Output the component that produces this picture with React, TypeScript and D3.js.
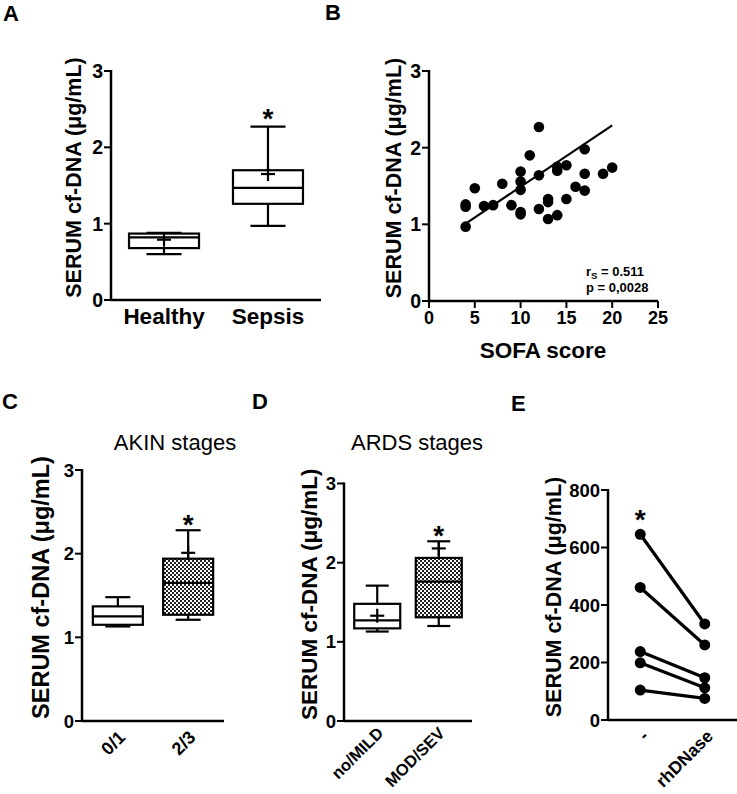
import React from "react";
import * as d3 from "d3";

// ---------- DATA ----------
// Panel A
const catsA = ["Healthy", "Sepsis"];
// [min, q1, median, q3, max]
const boxA = [
  [0.6, 0.68, 0.82, 0.87, 0.88],
  [0.97, 1.26, 1.47, 1.7, 2.27],
];
const meanA = [0.79, 1.65];

// Panel B
const sofaScore = [4, 4, 4, 5, 6, 7, 8, 9, 10, 10, 10, 10, 10, 11, 12, 12, 12, 13, 13, 13, 14, 14, 14, 15, 15, 16, 17, 17, 17, 19, 20];
const cfDnaB = [0.97, 1.26, 1.23, 1.47, 1.24, 1.25, 1.53, 1.25, 1.69, 1.56, 1.45, 1.16, 1.13, 1.9, 2.27, 1.64, 1.2, 1.33, 1.29, 1.07, 1.12, 1.75, 1.7, 1.77, 1.33, 1.49, 1.98, 1.66, 1.44, 1.66, 1.74];
const fitX = [4, 20];
const fitY = [1.01, 2.29];
const ticksB = [0, 5, 10, 15, 20, 25];

// Panel C
const catsC = ["0/1", "2/3"];
const boxC = [
  [1.13, 1.15, 1.25, 1.37, 1.48],
  [1.21, 1.27, 1.65, 1.94, 2.28],
];
const meanC = [null, 2.01];

// Panel D
const catsD = ["no/MILD", "MOD/SEV"];
const boxD = [
  [1.13, 1.17, 1.27, 1.48, 1.71],
  [1.2, 1.31, 1.76, 2.06, 2.27],
];
const meanD = [1.33, 2.18];

// Panel E
const catsE = ["-", "rhDNase"];
const beforeE = [646, 461, 238, 199, 104];
const afterE = [334, 261, 147, 112, 75];

const yTicks3 = [0, 1, 2, 3];
const yTicksE = [0, 200, 400, 600, 800];

const FONT = "'Liberation Sans', Arial, Helvetica, sans-serif";
const yLabel = "SERUM cf-DNA (\u03bcg/mL)";

type Scale = (v: number) => number;

function YAxis({ x, y, ticks, fs, labelX, labelFs, top, bottom }: { x: number; y: Scale; ticks: number[]; fs: number; labelX: number; labelFs: number; top: number; bottom: number }) {
  return (
    <g>
      <line x1={x} x2={x} y1={top - 1} y2={bottom + 1} stroke="#000" strokeWidth={2.5} />
      {ticks.map((t) => (
        <g key={t}>
          <line x1={x - 7} x2={x} y1={y(t)} y2={y(t)} stroke="#000" strokeWidth={2} />
          <text x={x - 8} y={y(t)} dy="0.36em" textAnchor="end" fontSize={fs} fontWeight="bold" fontFamily={FONT}>
            {t}
          </text>
        </g>
      ))}
      <text
        transform={`translate(${labelX},${(top + bottom) / 2 - 8}) rotate(-90)`}
        textAnchor="middle"
        dy="0.36em"
        fontSize={labelFs}
        fontWeight="bold"
        fontFamily={FONT}
      >
        {yLabel}
      </text>
    </g>
  );
}

function Box({ cx, w, stats, mean, y, fill }: { cx: number; w: number; stats: number[]; mean: number | null; y: Scale; fill: string }) {
  const [mn, q1, md, q3, mx] = stats;
  const cap = w * 0.5;
  return (
    <g stroke="#000" strokeWidth={2.2} fill="none">
      <line x1={cx} x2={cx} y1={y(mx)} y2={y(q3)} />
      <line x1={cx} x2={cx} y1={y(q1)} y2={y(mn)} />
      <line x1={cx - cap / 2} x2={cx + cap / 2} y1={y(mx)} y2={y(mx)} />
      <line x1={cx - cap / 2} x2={cx + cap / 2} y1={y(mn)} y2={y(mn)} />
      <rect x={cx - w / 2} y={y(q3)} width={w} height={y(q1) - y(q3)} fill={fill} />
      <line x1={cx - w / 2} x2={cx + w / 2} y1={y(md)} y2={y(md)} />
      {mean !== null && (
        <g>
          <line x1={cx - 7} x2={cx + 7} y1={y(mean)} y2={y(mean)} />
          <line x1={cx} x2={cx} y1={y(mean) - 7} y2={y(mean) + 7} />
        </g>
      )}
    </g>
  );
}

function Star({ x, yc }: { x: number; yc: number }) {
  return (
    <text x={x} y={yc + 16} textAnchor="middle" fontSize={28} fontWeight="bold" fontFamily={FONT}>
      *
    </text>
  );
}

function PanelLetter({ x, y, t }: { x: number; y: number; t: string }) {
  return (
    <text x={x} y={y} fontSize={22} fontWeight="bold" fontFamily={FONT}>
      {t}
    </text>
  );
}

export default function App() {
  // Panel A
  const yA = d3.scaleLinear().domain([0, 3]).range([300, 71]);
  const xA = d3.scalePoint<string>().domain(catsA).range([111, 321]).padding(0.51);

  // Panel B
  const yB = d3.scaleLinear().domain([0, 3]).range([301, 71]);
  const xB = d3.scaleLinear().domain([0, 25]).range([429, 658]);

  // Panel C
  const yC = d3.scaleLinear().domain([0, 3]).range([721, 470]);
  const xC = d3.scalePoint<string>().domain(catsC).range([82, 224]).padding(0.51);

  // Panel D
  const yD = d3.scaleLinear().domain([0, 3]).range([721, 483.5]);
  const xD = d3.scalePoint<string>().domain(catsD).range([344, 472]).padding(0.54);

  // Panel E
  const yE = d3.scaleLinear().domain([0, 800]).range([720, 490]);
  const xE = d3.scalePoint<string>().domain(catsE).range([608, 737]).padding(0.5);

  const lineE = d3.line<number[]>().x((d) => d[0]).y((d) => d[1]);

  return (
    <svg width={737} height={794} style={{ position: "absolute", left: 0, top: 0, background: "#fff" }} fontFamily={FONT}>
      <defs>
        <pattern id="checker" width={4} height={4} patternUnits="userSpaceOnUse">
          <rect width={4} height={4} fill="#fff" />
          <rect x={0} y={0} width={2} height={2} fill="#222" />
          <rect x={2} y={2} width={2} height={2} fill="#222" />
        </pattern>
      </defs>
      <rect width={737} height={794} fill="#fff" />

      {/* ---------- Panel A ---------- */}
      <PanelLetter x={3} y={21} t="A" />
      <YAxis x={111} y={yA} ticks={yTicks3} fs={19.5} labelX={73} labelFs={21.5} top={71} bottom={300} />
      <line x1={111} x2={321} y1={300} y2={300} stroke="#000" strokeWidth={2.5} />
      {catsA.map((c) => (
        <text key={c} x={xA(c)} y={324} textAnchor="middle" fontSize={22.5} fontWeight="bold" fontFamily={FONT}>
          {c}
        </text>
      ))}
      {catsA.map((c, i) => (
        <Box key={c} cx={xA(c) as number} w={70} stats={boxA[i]} mean={meanA[i]} y={yA} fill="#fff" />
      ))}
      <Star x={xA("Sepsis") as number} yc={yA(boxA[1][4]) - 15} />

      {/* ---------- Panel B ---------- */}
      <PanelLetter x={325} y={20} t="B" />
      <YAxis x={429} y={yB} ticks={yTicks3} fs={19.5} labelX={393} labelFs={21.5} top={71} bottom={301} />
      <line x1={429} x2={658} y1={301} y2={301} stroke="#000" strokeWidth={2.5} />
      {ticksB.map((t) => (
        <g key={t}>
          <line x1={xB(t)} x2={xB(t)} y1={301} y2={308} stroke="#000" strokeWidth={2} />
          <text x={xB(t)} y={324} textAnchor="middle" fontSize={18} fontWeight="bold" fontFamily={FONT}>
            {t}
          </text>
        </g>
      ))}
      <text x={543} y={358} textAnchor="middle" fontSize={22.5} fontWeight="bold" fontFamily={FONT}>
        SOFA score
      </text>
      <line x1={xB(fitX[0])} x2={xB(fitX[1])} y1={yB(fitY[0])} y2={yB(fitY[1])} stroke="#000" strokeWidth={2.2} />
      {sofaScore.map((s, i) => (
        <circle key={i} cx={xB(s)} cy={yB(cfDnaB[i])} r={5.3} fill="#000" />
      ))}
      <text x={586} y={276} fontSize={13} fontWeight="bold" fontFamily={FONT}>
        r<tspan fontSize={9.5} dy={3}>S</tspan>
        <tspan dy={-3}> = 0.511</tspan>
      </text>
      <text x={586} y={292} fontSize={13} fontWeight="bold" fontFamily={FONT}>
        p = 0,0028
      </text>

      {/* ---------- Panel C ---------- */}
      <PanelLetter x={2} y={409} t="C" />
      <text x={175} y={450} textAnchor="middle" fontSize={22} fontFamily={FONT}>
        AKIN stages
      </text>
      <YAxis x={82} y={yC} ticks={yTicks3} fs={18.5} labelX={41} labelFs={23.5} top={470} bottom={721} />
      <line x1={82} x2={224} y1={721} y2={721} stroke="#000" strokeWidth={2.5} />
      {catsC.map((c) => (
        <text key={c} transform={`translate(${(xC(c) as number) + 4},${734}) rotate(-45)`} textAnchor="end" dy="0.35em" fontSize={18} fontWeight="bold" fontFamily={FONT}>
          {c}
        </text>
      ))}
      {catsC.map((c, i) => (
        <Box key={c} cx={xC(c) as number} w={50} stats={boxC[i]} mean={meanC[i]} y={yC} fill={i === 1 ? "url(#checker)" : "#fff"} />
      ))}
      <Star x={xC("2/3") as number} yc={yC(boxC[1][4]) - 12} />

      {/* ---------- Panel D ---------- */}
      <PanelLetter x={252} y={409} t="D" />
      <text x={417} y={450} textAnchor="middle" fontSize={22} fontFamily={FONT}>
        ARDS stages
      </text>
      <YAxis x={344} y={yD} ticks={yTicks3} fs={18.5} labelX={309} labelFs={22.5} top={483.5} bottom={721} />
      <line x1={344} x2={472} y1={721} y2={721} stroke="#000" strokeWidth={2.5} />
      {catsD.map((c) => (
        <text key={c} transform={`translate(${(xD(c) as number) + 3},${730}) rotate(-45)`} textAnchor="end" dy="0.35em" fontSize={16.5} fontWeight="bold" fontFamily={FONT}>
          {c}
        </text>
      ))}
      {catsD.map((c, i) => (
        <Box key={c} cx={xD(c) as number} w={46} stats={boxD[i]} mean={meanD[i]} y={yD} fill={i === 1 ? "url(#checker)" : "#fff"} />
      ))}
      <Star x={xD("MOD/SEV") as number} yc={yD(boxD[1][4]) - 12} />

      {/* ---------- Panel E ---------- */}
      <PanelLetter x={511} y={411} t="E" />
      <YAxis x={608} y={yE} ticks={yTicksE} fs={18.5} labelX={553} labelFs={21.5} top={490} bottom={720} />
      <line x1={608} x2={737} y1={720} y2={720} stroke="#000" strokeWidth={2.5} />
      {catsE.map((c) => (
        <text key={c} transform={`translate(${(xE(c) as number) + 5},${733}) rotate(-45)`} textAnchor="end" dy="0.35em" fontSize={17.5} fontWeight="bold" fontFamily={FONT}>
          {c}
        </text>
      ))}
      {beforeE.map((b, i) => {
        const p0 = [xE("-") as number, yE(b)];
        const p1 = [xE("rhDNase") as number, yE(afterE[i])];
        return (
          <g key={i}>
            <path d={lineE([p0, p1]) as string} stroke="#000" strokeWidth={3.2} fill="none" />
            <circle cx={p0[0]} cy={p0[1]} r={5.5} fill="#000" />
            <circle cx={p1[0]} cy={p1[1]} r={5.5} fill="#000" />
          </g>
        );
      })}
      <Star x={xE("-") as number} yc={yE(d3.max(beforeE) as number) - 21} />
    </svg>
  );
}
